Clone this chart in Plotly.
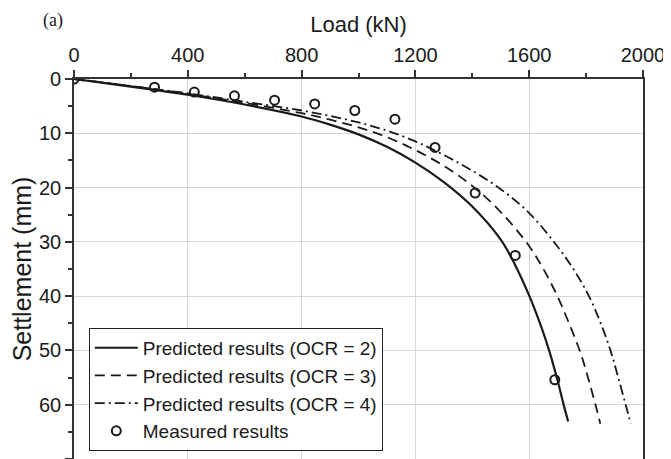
import plotly.graph_objects as go

# Predicted curves (load in kN, settlement in mm)
load_ocr2 = [0, 200, 400, 600, 800, 900, 1000, 1100, 1200, 1300, 1400, 1500, 1550, 1600, 1640, 1670, 1700, 1720, 1737]
sett_ocr2 = [0, 1.4, 2.9, 4.7, 6.9, 8.4, 10.2, 12.5, 15.4, 19.0, 23.5, 29.6, 34.2, 39.9, 45.3, 50.0, 55.6, 59.8, 63.1]

load_ocr3 = [0, 200, 400, 600, 800, 900, 1000, 1100, 1200, 1300, 1400, 1500, 1600, 1650, 1700, 1740, 1780, 1810, 1837, 1850]
sett_ocr3 = [0, 1.3, 2.75, 4.4, 6.3, 7.5, 8.9, 10.7, 13.1, 16.0, 19.7, 24.5, 30.8, 35.0, 40.1, 45.0, 50.4, 55.6, 60.8, 63.5]

load_ocr4 = [0, 200, 400, 600, 800, 900, 1000, 1100, 1200, 1300, 1400, 1500, 1600, 1700, 1760, 1810, 1850, 1885, 1913, 1940, 1957]
sett_ocr4 = [0, 1.3, 2.65, 4.2, 5.8, 6.8, 8.0, 9.5, 11.5, 14.0, 16.9, 20.3, 24.7, 30.9, 35.4, 40.0, 44.8, 49.9, 55.0, 60.2, 63.5]

# Measured results
load_meas = [0, 283, 423, 564, 705, 846, 987, 1128, 1269, 1410, 1551, 1690]
sett_meas = [0, 1.5, 2.4, 3.1, 3.9, 4.6, 5.8, 7.4, 12.6, 21.0, 32.5, 55.4]

x_ticks = [0, 400, 800, 1200, 1600, 2000]
y_ticks = [0, 10, 20, 30, 40, 50, 60, 70]

FONT = "Liberation Sans, Arial, sans-serif"
INK = "#1a1a1a"

fig = go.Figure()
fig.add_trace(go.Scatter(x=load_ocr2, y=sett_ocr2, mode="lines", name="Predicted results (OCR = 2)",
                         line=dict(color=INK, width=2.2, shape="spline", smoothing=1.0)))
fig.add_trace(go.Scatter(x=load_ocr3, y=sett_ocr3, mode="lines", name="Predicted results (OCR = 3)",
                         line=dict(color=INK, width=1.8, dash="10px,6px", shape="spline", smoothing=1.0)))
fig.add_trace(go.Scatter(x=load_ocr4, y=sett_ocr4, mode="lines", name="Predicted results (OCR = 4)",
                         line=dict(color=INK, width=1.8, dash="10px,4px,2px,4px", shape="spline", smoothing=1.0)))
fig.add_trace(go.Scatter(x=load_meas, y=sett_meas, mode="markers", name="Measured results",
                         marker=dict(symbol="circle-open", size=9, color=INK, line=dict(width=2, color=INK))))

axis_common = dict(
    showline=True, linecolor="#333333", linewidth=1.6,
    ticks="outside", ticklen=7, tickwidth=1.5, tickcolor="#333333",
    showgrid=True, gridcolor="#d6d6d6", gridwidth=1.2,
    zeroline=False,
    tickfont=dict(family=FONT, size=20, color=INK),
)

# page body has an 8px default margin: the figure is sized/placed to compensate
fig.update_layout(
    width=663, height=451,
    margin=dict(l=66, r=28, t=71, b=0),
    paper_bgcolor="white", plot_bgcolor="white",
    font=dict(family=FONT, color=INK),
    xaxis=dict(
        range=[0, 2000], side="top", tickvals=x_ticks, mirror=False,
        title=dict(text="Load (kN)", font=dict(family=FONT, size=22, color=INK), standoff=6),
        minor=dict(dtick=200, tick0=0, ticks="outside", ticklen=4, tickwidth=1.5, tickcolor="#333333", showgrid=False),
        **axis_common,
    ),
    yaxis=dict(
        range=[70, 0], tickvals=y_ticks, mirror=True,
        title=dict(text="Settlement (mm)", font=dict(family=FONT, size=25, color=INK), standoff=4),
        minor=dict(dtick=5, tick0=0, ticks="outside", ticklen=4, tickwidth=1.5, tickcolor="#333333", showgrid=False),
        **axis_common,
    ),
    legend=dict(
        x=0.026, y=0.345, xanchor="left", yanchor="top",
        bgcolor="white", bordercolor="#222222", borderwidth=1,
        font=dict(family=FONT, size=19, color=INK),
        itemwidth=43,
        tracegroupgap=0,
    ),
    showlegend=True,
    annotations=[dict(
        text="(a)", xref="paper", yref="paper", x=-0.037, y=1.155,
        xanchor="center", yanchor="middle", showarrow=False,
        font=dict(family="Liberation Serif, Times New Roman, serif", size=18, color=INK),
    )],
)

fig.write_html("out.html")
